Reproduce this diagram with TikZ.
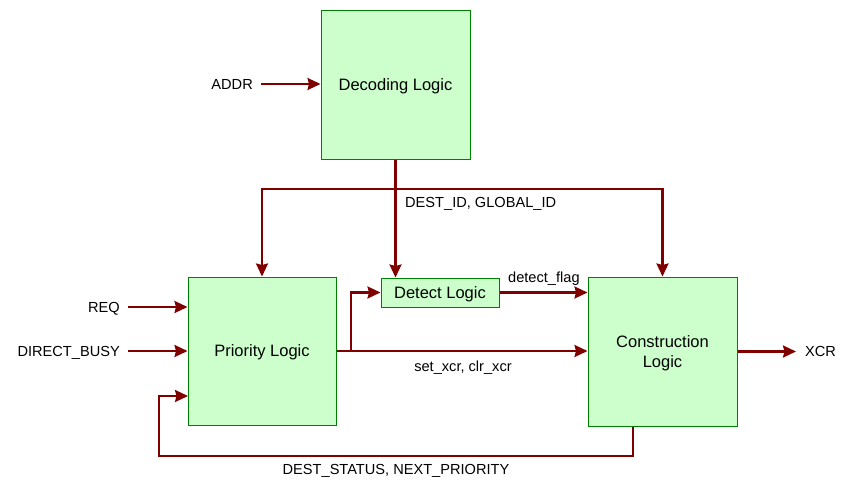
\documentclass[tikz,border=0pt]{standalone}
\usepackage{fontspec}
\setmainfont{Liberation Sans}
\usetikzlibrary{arrows.meta}
\definecolor{wirec}{HTML}{800000}
\definecolor{boxfill}{HTML}{CCFFCC}
\definecolor{boxline}{HTML}{008000}
\begin{document}
\begin{tikzpicture}[x=1pt,y=-1pt,
  block/.style={draw=boxline, fill=boxfill, line width=1pt, inner sep=0pt,
    font=\fontsize{16.5}{19.5}\selectfont, align=center,
    text height=11.8pt, text depth=0pt},
  wire/.style={draw=wirec, line width=2.2pt,
    -{Stealth[length=13pt,width=12pt,inset=1.5pt]}},
  lbl/.style={font=\fontsize{14.6}{17}\selectfont, inner sep=0pt,
    text height=10.5pt, text depth=0pt}]
\useasboundingbox (0,0) rectangle (852,485);

% blocks
\node[block, minimum width=149pt, minimum height=149pt] (dec) at (395.5,84.5) {Decoding Logic};
\node[block, minimum width=148pt, minimum height=148pt] (pri) at (262,351) {Priority Logic};
\node[block, minimum width=118pt, minimum height=29pt] (det) at (440,292.5) {Detect Logic};
\node[block, minimum width=149pt, minimum height=149pt, text height=31.3pt] (con) at (662.5,351.5) {Construction\\Logic};

% external labels
\node[lbl, anchor=east] (addr) at (253,84) {ADDR};
\node[lbl, anchor=east] (req) at (120,307) {REQ};
\node[lbl, anchor=east] (busy) at (120,351) {DIRECT\_BUSY};
\node[lbl, anchor=west] (xcr) at (805,351.5) {XCR};

% connector labels
\node[lbl, anchor=west] (idl) at (405,202) {DEST\_ID, GLOBAL\_ID};
\node[lbl, anchor=west] (dfl) at (508,277) {detect\_flag};
\node[lbl] (scl) at (463,366) {set\_xcr, clr\_xcr};
\node[lbl] (fbl) at (396,469) {DEST\_STATUS, NEXT\_PRIORITY};

% helper coordinates
\coordinate (bus) at (395.5,189);
\coordinate (br) at (351,351);
\coordinate (fbr) at (633,456);
\coordinate (fbll) at (159,456);
\coordinate (fbe) at (188,396);

% connectors
\draw[wire] ([xshift=8pt]addr.east) -- (addr.east -| dec.west);
\draw[wire] (dec.south) -- (dec.south |- det.north);
\draw[wire] (bus) -| (pri.north);
\draw[wire] (bus) -| (con.north);
\draw[wire] ([xshift=8pt]req.east) -- (req.east -| pri.west);
\draw[wire] ([xshift=8pt]busy.east) -- (busy.east -| pri.west);
\draw[wire] (pri.east) -- (pri.east -| con.west);
\draw[wire] (br) |- (det.west);
\draw[wire] (det.east) -- (det.east -| con.west);
\draw[wire] (con.east) -- ([xshift=-9pt]xcr.west);
\draw[wire] (fbr |- con.south) -- (fbr) -- (fbll) |- (fbe);
\end{tikzpicture}
\end{document}
